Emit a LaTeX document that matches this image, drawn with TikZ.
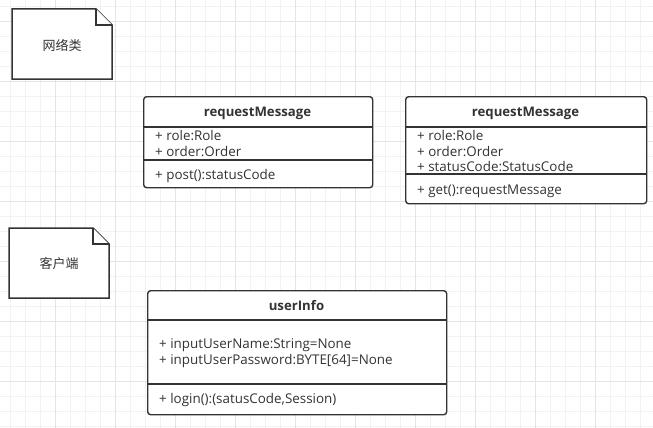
\documentclass[tikz,border=0pt]{standalone}
\usepackage{fontspec}
\setmainfont{Open Sans}
\newfontfamily\cjk{Noto Sans CJK SC}
\definecolor{ink}{HTML}{333333}
\definecolor{gminor}{HTML}{F2F2F2}
\definecolor{gmajor}{HTML}{E4E4E4}
\begin{document}
\begin{tikzpicture}[x=1pt,y=-1pt,
  minorline/.style={gminor,line width=0.8pt},
  majorline/.style={gmajor,line width=0.8pt},
  notebox/.style={draw=ink,line width=1.5pt,fill=white,line join=miter},
  classbox/.style={draw=ink,line width=1.4pt,fill=white,rounded corners=3pt,anchor=north west,inner sep=0pt},
  divider/.style={draw=ink,line width=1.4pt},
  title/.style={font=\fontsize{13.2}{15}\selectfont\bfseries,text=ink,anchor=center,inner sep=0pt},
  member/.style={font=\fontsize{13.4}{15}\selectfont,text=ink,anchor=west,inner sep=0pt},
  notetext/.style={font=\cjk\fontsize{13}{15}\selectfont,text=ink,inner sep=0pt}]
\useasboundingbox (0,0) rectangle (653,428);
\fill[white] (0,0) rectangle (653,428);
% grid
\foreach \x in {10,25,...,650} \draw[minorline] (\x,0) -- (\x,428);
\foreach \y in {6,21,...,426} \draw[minorline] (0,\y) -- (653,\y);
\foreach \x in {55,115,...,650} \draw[majorline] (\x,0) -- (\x,428);
\foreach \y in {21,81,...,426} \draw[majorline] (0,\y) -- (653,\y);
% notes
\draw[notebox] (12,9) -- (96,9) -- (112,25) -- (112,79) -- (12,79) -- cycle;
\draw[notebox] (96,9) -- (96,25) -- (112,25);
\node[notetext] (note1) at (62,45) {网络类};
\draw[notebox] (9,228) -- (93,228) -- (109,244) -- (109,298) -- (9,298) -- cycle;
\draw[notebox] (93,228) -- (93,244) -- (109,244);
\node[notetext] (note2) at (59,264) {客户端};
% class 1
\node[classbox,minimum width=229pt,minimum height=91pt] (c1) at (143,96) {};
\draw[divider] (143,127) -- (372,127);
\draw[divider] (143,160) -- (372,160);
\node[title] (c1t) at (257.5,113) {requestMessage};
\node[member] (c1a) at (155,136) {+ role:Role};
\node[member] (c1b) at (155,152) {+ order:Order};
\node[member] (c1m) at (155,176) {+ post():statusCode};
% class 2
\node[classbox,minimum width=241pt,minimum height=107pt] (c2) at (405,96) {};
\draw[divider] (405,127) -- (646,127);
\draw[divider] (405,174) -- (646,174);
\node[title] (c2t) at (525.5,113) {requestMessage};
\node[member] (c2a) at (417,136) {+ role:Role};
\node[member] (c2b) at (417,152) {+ order:Order};
\node[member] (c2c) at (417,167) {+ statusCode:StatusCode};
\node[member] (c2m) at (417,191) {+ get():requestMessage};
% class 3
\node[classbox,minimum width=299pt,minimum height=124pt] (c3) at (147,290) {};
\draw[divider] (147,320) -- (446,320);
\draw[divider] (147,384) -- (446,384);
\node[title] (c3t) at (296.5,306) {userInfo};
\node[member] (c3a) at (159,345) {+ inputUserName:String=None};
\node[member] (c3b) at (159,361) {+ inputUserPassword:BYTE[64]=None};
\node[member] (c3m) at (159,400) {+ login():(satusCode,Session)};
\end{tikzpicture}
\end{document}
